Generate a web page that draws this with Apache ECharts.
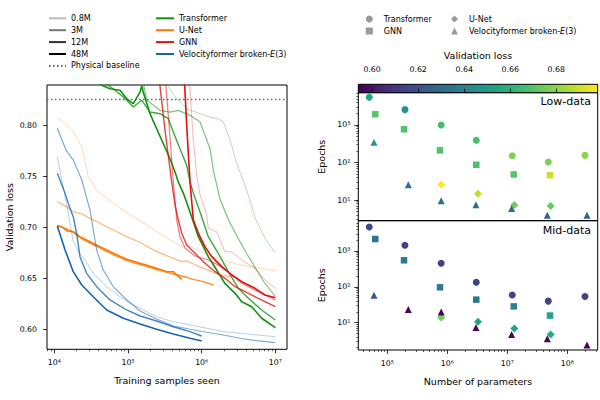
<!DOCTYPE html>
<html><head><meta charset="utf-8">
<script src="https://cdn.jsdelivr.net/npm/echarts@6/dist/echarts.min.js"></script>
<style>html,body{margin:0;padding:0;background:#fff}#c{width:600px;height:400px}</style>
</head><body><div id="c"></div>
<script>
// ---------------- DATA ----------------
const SIZES = ['0.8M', '3M', '12M', '48M'];
const MODELS = ['Transformer', 'U-Net', 'GNN', 'Velocityformer broken-E(3)'];
const BASELINE = 0.825;

// Left panel: [training samples seen, validation loss]
const transformer08M = [[3.18e5,0.8421],[3.53e5,0.8375],[4.58e5,0.8257],[6.27e5,0.8160],[9.51e5,0.8111],[1.30e6,0.8078],[1.60e6,0.8066],[1.97e6,0.8032],[2.43e6,0.7853],[2.99e6,0.7625],[4.09e6,0.7364],[5.30e6,0.7090],[7.24e6,0.6891],[1.0e7,0.6744]];
const transformer3M = [[1.60e5,0.8421],[1.80e5,0.8245],[2.72e5,0.8144],[3.72e5,0.8127],[4.82e5,0.8144],[6.95e5,0.8095],[9.51e5,0.8029],[1.11e6,0.7899],[1.30e6,0.7768],[1.44e6,0.7559],[1.77e6,0.7276],[2.32e6,0.7070],[3.16e6,0.6884],[4.19e6,0.6727],[5.47e6,0.6590],[7.02e6,0.6463],[1.0e7,0.6321]];
const transformer12M = [[5.04e4,0.8421],[5.41e4,0.8389],[6.67e4,0.8340],[8.65e4,0.8274],[1.18e5,0.8176],[1.54e5,0.8242],[1.99e5,0.8127],[2.72e5,0.8111],[3.53e5,0.8062],[4.12e5,0.7931],[5.08e5,0.7768],[6.27e5,0.7605],[6.95e5,0.7442],[7.87e5,0.7315],[9.51e5,0.7148],[1.23e6,0.6907],[1.68e6,0.6744],[2.30e6,0.6564],[3.15e6,0.6401],[4.30e6,0.6303],[6.53e6,0.6189],[1.0e7,0.6091]];
const transformer48M = [[3.92e4,0.8421],[4.40e4,0.8389],[5.70e4,0.8355],[7.80e4,0.8340],[9.61e4,0.8257],[1.18e5,0.8209],[1.46e5,0.8323],[1.54e5,0.8385],[1.61e5,0.8323],[1.99e5,0.8111],[2.45e5,0.7964],[3.02e5,0.7817],[3.72e5,0.7670],[4.35e5,0.7540],[4.82e5,0.7442],[5.64e5,0.7334],[6.95e5,0.7148],[9.02e5,0.6907],[1.23e6,0.6711],[1.60e6,0.6580],[2.07e6,0.6450],[2.84e6,0.6352],[3.50e6,0.6270],[4.78e6,0.6221],[6.53e6,0.6108],[1.0e7,0.6016]];

const unet08M = [[1.10e4,0.8075],[1.40e4,0.8017],[1.81e4,0.7934],[2.36e4,0.7788],[2.90e4,0.7494],[3.76e4,0.7364],[5.14e4,0.7282],[7.80e4,0.7185],[1.18e5,0.7102],[1.80e5,0.7021],[2.72e5,0.6933],[4.12e5,0.6858],[5.36e5,0.6809],[6.59e5,0.6825],[9.51e5,0.6760],[1.60e6,0.6695],[2.69e6,0.6646],[4.53e6,0.6613],[1.0e7,0.6571]];
const unet3M = [[1.10e4,0.7249],[1.47e4,0.7200],[1.81e4,0.7151],[2.36e4,0.7129],[3.38e4,0.7070],[5.14e4,0.7004],[8.65e4,0.6923],[1.46e5,0.6850],[2.45e5,0.6760],[4.12e5,0.6695],[5.36e5,0.6662],[6.27e5,0.6669],[1.05e6,0.6597],[1.77e6,0.6532],[3.15e6,0.6502]];
const unet12M = [[1.10e4,0.7016],[1.27e4,0.7001],[1.48e4,0.6982],[1.81e4,0.6948],[2.23e4,0.6897],[3.05e4,0.6843],[4.17e4,0.6794],[6.32e4,0.6732],[9.61e4,0.6673],[1.46e5,0.6634],[2.45e5,0.6585],[4.12e5,0.6541],[5.36e5,0.6522],[6.27e5,0.6509],[7.71e5,0.6489],[1.05e6,0.6466],[1.45e6,0.6434]];
const unet48M = [[1.10e4,0.7011],[1.26e4,0.7004],[1.47e4,0.6965],[1.81e4,0.6955],[2.23e4,0.6907],[3.05e4,0.6858],[4.17e4,0.6809],[6.32e4,0.6744],[9.61e4,0.6685],[1.46e5,0.6646],[2.45e5,0.6597],[3.36e5,0.6564],[4.12e5,0.6564],[4.58e5,0.6532],[5.36e5,0.6489]];

const gnn08M = [[6.84e5,0.8421],[7.71e5,0.7853],[8.57e5,0.7511],[9.51e5,0.7315],[1.17e6,0.7119],[1.23e6,0.6989],[1.60e6,0.6955],[2.07e6,0.6760],[2.56e6,0.6760],[3.50e6,0.6678],[5.30e6,0.6597],[7.24e6,0.6483],[1.0e7,0.6404]];
const gnn3M = [[3.23e5,0.8421],[3.66e5,0.7951],[4.12e5,0.7442],[4.42e5,0.7217],[4.58e5,0.7070],[5.08e5,0.6907],[5.94e5,0.6796],[8.13e5,0.6718],[1.23e6,0.6678],[1.67e6,0.6629],[2.28e6,0.6564],[3.50e6,0.6450],[5.87e6,0.6368],[1.0e7,0.6287]];
const gnn12M = [[2.68e5,0.8421],[3.18e5,0.7951],[3.92e5,0.7442],[4.35e5,0.7217],[4.82e5,0.7070],[5.36e5,0.6940],[6.27e5,0.6825],[8.13e5,0.6744],[1.11e6,0.6646],[1.52e6,0.6564],[2.07e6,0.6499],[2.84e6,0.6417],[3.88e6,0.6368],[5.87e6,0.6303],[1.0e7,0.6221]];
const gnn48M = [[5.85e5,0.8421],[6.32e5,0.7951],[6.95e5,0.7442],[7.40e5,0.7217],[7.71e5,0.7070],[9.02e5,0.6940],[1.11e6,0.6809],[1.37e6,0.6711],[1.87e6,0.6613],[2.56e6,0.6532],[3.50e6,0.6466],[5.30e6,0.6401],[7.24e6,0.6336],[1.0e7,0.6309]];

const vf08M = [[1.10e4,0.7690],[1.32e4,0.7396],[1.55e4,0.7136],[1.81e4,0.6858],[2.12e4,0.6760],[2.61e4,0.6678],[3.38e4,0.6548],[5.14e4,0.6417],[8.65e4,0.6294],[1.46e5,0.6206],[2.45e5,0.6123],[4.12e5,0.6074],[6.95e5,0.6042],[1.17e6,0.6010],[1.97e6,0.5977],[3.32e6,0.5961],[5.58e6,0.5944],[1.0e7,0.5928]];
const vf3M = [[1.10e4,0.7968],[1.44e4,0.7755],[1.81e4,0.7657],[2.36e4,0.7462],[3.05e4,0.7168],[3.76e4,0.6776],[4.62e4,0.6580],[6.32e4,0.6417],[9.61e4,0.6287],[1.46e5,0.6179],[2.45e5,0.6101],[4.12e5,0.6032],[6.95e5,0.6000],[1.17e6,0.5971],[1.97e6,0.5944],[3.32e6,0.5912],[5.58e6,0.5888],[1.0e7,0.5869]];
const vf12M = [[1.10e4,0.7527],[1.40e4,0.7331],[1.63e4,0.7185],[1.81e4,0.7102],[2.01e4,0.6940],[2.23e4,0.6711],[2.75e4,0.6548],[3.76e4,0.6417],[5.70e4,0.6287],[9.61e4,0.6189],[1.46e5,0.6130],[2.45e5,0.6081],[4.12e5,0.6025],[6.95e5,0.5977],[1.0e6,0.5934]];
const vf48M = [[1.10e4,0.7011],[1.40e4,0.6776],[1.81e4,0.6564],[2.36e4,0.6434],[3.38e4,0.6319],[5.14e4,0.6189],[8.65e4,0.6108],[1.46e5,0.6052],[2.45e5,0.6000],[4.12e5,0.5954],[6.95e5,0.5912],[1.0e6,0.5885]];

// Right panels: number of parameters per model
const PARAMS_TRANSFORMER = [5.0e4, 1.97e5, 7.9e5, 3.04e6, 1.21e7, 4.82e7, 1.97e8];
const PARAMS_GNN = [6.3e4, 1.9e5, 7.55e5, 3.04e6, 1.28e7, 5.15e7];
const PARAMS_UNET = [7.9e5, 3.25e6, 1.31e7, 5.28e7];
const PARAMS_VF = [6.0e4, 2.24e5, 7.9e5, 3.0e6, 1.18e7, 4.64e7, 2.13e8];

// Low-data: epochs and validation loss (colour)
const LOW_EPOCHS_TRANSFORMER = [5480, 2570, 1000, 390, 152, 103, 155];
const LOW_LOSS_TRANSFORMER = [0.654, 0.648, 0.667, 0.667, 0.678, 0.677, 0.680];
const LOW_EPOCHS_GNN = [1930, 768, 211, 87, 48, 46];
const LOW_LOSS_GNN = [0.670, 0.669, 0.669, 0.668, 0.670, 0.690];
const LOW_EPOCHS_UNET = [26, 14.7, 7.4, 6.9];
const LOW_LOSS_UNET = [0.698, 0.688, 0.675, 0.673];
const LOW_EPOCHS_VF = [347, 25.7, 9.5, 7.5, 5.9, 3.9, 3.9];
const LOW_LOSS_VF = [0.649, 0.632, 0.630, 0.631, 0.629, 0.628, 0.628];

// Mid-data
const MID_EPOCHS_TRANSFORMER = [4670, 1440, 453, 134, 59, 40, 54];
const MID_LOSS_TRANSFORMER = [0.617, 0.615, 0.614, 0.614, 0.615, 0.614, 0.615];
const MID_EPOCHS_GNN = [2160, 550, 97, 44, 28.5, 15.8];
const MID_LOSS_GNN = [0.636, 0.636, 0.637, 0.636, 0.641, 0.654];
const MID_EPOCHS_UNET = [14, 10.6, 6.9, 4.7];
const MID_LOSS_UNET = [0.675, 0.656, 0.656, 0.657];
const MID_EPOCHS_VF = [58, 23.4, 19.8, 7.35, 4.7, 3.55, 2.4];
const MID_LOSS_VF = [0.622, 0.596, 0.595, 0.596, 0.596, 0.595, 0.595];

// Tick labels
const LEFT_X_TICKS = [1e4, 1e5, 1e6, 1e7];
const LEFT_Y_TICKS = [0.60, 0.65, 0.70, 0.75, 0.80];
const RIGHT_X_TICKS = [1e5, 1e6, 1e7, 1e8];
const RIGHT_Y_TICKS = [1e1, 1e2, 1e3];
const CBAR_TICKS = [0.60, 0.62, 0.64, 0.66, 0.68];

// ---------------- STYLE / LAYOUT ----------------
const FONT = 'DejaVu Sans';
const MODEL_COLORS = ['#0e930e', '#ff7700', '#e01010', '#1565b0'];
const SIZE_ALPHA = [0.3, 0.55, 0.8, 1.0];
const SIZE_WIDTH = [1.0, 1.2, 1.4, 1.6];
const SIZE_GREY = ['#bbbbbb', '#777777', '#333333', '#000000'];
const SIZE_LEGEND_WIDTH = [1.3, 1.8, 2.2, 2.6];
const VIRIDIS = ['#440154','#482475','#414487','#355f8d','#2a788e','#21918c','#22a884','#44bf70','#7ad151','#bddf26','#fde725'];
const LX = [7960, 1.44e7], LY = [0.5804, 0.8392];
const RX = [32860, 3.21e8], RY1 = [2.81, 7260], RY2 = [1.73, 7000], CB = [0.594, 0.698];

function minorLogs(lo, hi) {
  const out = [];
  for (let e = Math.floor(Math.log10(lo)); e <= Math.ceil(Math.log10(hi)); e++) {
    for (let k = 2; k <= 9; k++) { const v = k * Math.pow(10, e); if (v > lo && v < hi) out.push(v); }
  }
  return out;
}
const SUP = {'0':'⁰','1':'¹','2':'²','3':'³','4':'⁴','5':'⁵','6':'⁶','7':'⁷','8':'⁸','9':'⁹','-':'⁻'};
const powFmt = v => '10' + String(Math.round(Math.log10(v))).split('').map(c => SUP[c]).join('');
const labelStyle = {color: '#000', fontSize: 7.8, fontFamily: FONT};
const nameStyle = {color: '#000', fontSize: 9.5, fontFamily: FONT};

function mainAxis(o) {
  return Object.assign({
    splitLine: {show: false}, axisLine: {show: false},
    axisTick: {show: true, length: 4, lineStyle: {color: '#000', width: 0.8}, customValues: o.ticks},
    axisLabel: Object.assign({show: !!o.labels, customValues: o.ticks, margin: o.margin || 8}, labelStyle, o.fmt ? {formatter: o.fmt} : {}),
    nameTextStyle: nameStyle, nameLocation: 'middle'
  }, o.extra);
}
function minorAxis(o) {
  return Object.assign({
    splitLine: {show: false}, axisLine: {show: false}, axisLabel: {show: false},
    axisTick: {show: true, length: 2, lineStyle: {color: '#000', width: 0.6}, customValues: o.ticks}
  }, o.extra);
}

const xAxis = [
  mainAxis({ticks: LEFT_X_TICKS, labels: true, fmt: powFmt, margin: 9, extra: {type: 'log', gridIndex: 0, min: LX[0], max: LX[1], position: 'bottom', name: 'Training samples seen', nameGap: 26}}),
  minorAxis({ticks: minorLogs(LX[0], LX[1]), extra: {type: 'log', gridIndex: 0, min: LX[0], max: LX[1], position: 'bottom'}}),
  {type: 'log', gridIndex: 1, min: RX[0], max: RX[1], position: 'bottom', axisLine: {show: false}, axisTick: {show: false}, axisLabel: {show: false}, splitLine: {show: false}},
  mainAxis({ticks: RIGHT_X_TICKS, labels: true, fmt: powFmt, margin: 9, extra: {type: 'log', gridIndex: 2, min: RX[0], max: RX[1], position: 'bottom', name: 'Number of parameters', nameGap: 26}}),
  minorAxis({ticks: minorLogs(RX[0], RX[1]), extra: {type: 'log', gridIndex: 2, min: RX[0], max: RX[1], position: 'bottom'}}),
  mainAxis({ticks: CBAR_TICKS, labels: true, fmt: v => v.toFixed(2), margin: 11, extra: {type: 'value', gridIndex: 3, min: CB[0], max: CB[1], position: 'top', name: 'Validation loss', nameGap: 24}})
];
const yAxis = [
  mainAxis({ticks: LEFT_Y_TICKS, labels: true, fmt: v => v.toFixed(2), margin: 10, extra: {type: 'value', gridIndex: 0, min: LY[0], max: LY[1], position: 'left', name: 'Validation loss', nameGap: 33}}),
  mainAxis({ticks: RIGHT_Y_TICKS, labels: true, fmt: powFmt, margin: 8, extra: {type: 'log', gridIndex: 1, min: RY1[0], max: RY1[1], position: 'left', name: 'Epochs', nameGap: 32}}),
  minorAxis({ticks: minorLogs(RY1[0], RY1[1]), extra: {type: 'log', gridIndex: 1, min: RY1[0], max: RY1[1], position: 'left'}}),
  mainAxis({ticks: RIGHT_Y_TICKS, labels: true, fmt: powFmt, margin: 8, extra: {type: 'log', gridIndex: 2, min: RY2[0], max: RY2[1], position: 'left', name: 'Epochs', nameGap: 32}}),
  minorAxis({ticks: minorLogs(RY2[0], RY2[1]), extra: {type: 'log', gridIndex: 2, min: RY2[0], max: RY2[1], position: 'left'}}),
  {type: 'value', gridIndex: 3, show: false, min: 0, max: 1}
];

const gridBase = {show: true, borderColor: '#000', borderWidth: 1, backgroundColor: 'transparent', containLabel: false};
const grid = [
  Object.assign({left: 47, top: 85, width: 240, height: 264.3}, gridBase),
  Object.assign({left: 358.3, top: 92.7, width: 239.4, height: 128}, gridBase),
  Object.assign({left: 358.3, top: 220.7, width: 239.4, height: 129.3}, gridBase),
  Object.assign({}, gridBase, {left: 358.3, top: 84.3, width: 239.4, height: 8.4,
    backgroundColor: {type: 'linear', x: 0, y: 0, x2: 1, y2: 0, colorStops: VIRIDIS.map((c, i) => ({offset: i / (VIRIDIS.length - 1), color: c}))}})
];

// ---------------- SERIES ----------------
const series = [];
const LINES = [
  [transformer08M, transformer3M, transformer12M, transformer48M],
  [unet08M, unet3M, unet12M, unet48M],
  [gnn08M, gnn3M, gnn12M, gnn48M],
  [vf08M, vf3M, vf12M, vf48M]
];
LINES.forEach((arr, m) => arr.forEach((d, s) => {
  series.push({type: 'line', name: MODELS[m] + ' · ' + SIZES[s], xAxisIndex: 0, yAxisIndex: 0, data: d,
    symbol: 'none', silent: true, clip: true, z: 3,
    lineStyle: {color: MODEL_COLORS[m], width: SIZE_WIDTH[s], opacity: SIZE_ALPHA[s]}});
}));
// baseline across the full axis extent
series.push({type: 'line', name: 'Physical baseline', xAxisIndex: 0, yAxisIndex: 0,
  data: [[LX[0], BASELINE], [LX[1], BASELINE]], symbol: 'none', silent: true, z: 2,
  lineStyle: {color: '#666', width: 1.5, type: [1.5, 2.5]}, itemStyle: {color: '#666'}});
// legend dummies (sizes)
SIZES.forEach((s, i) => series.push({type: 'line', name: s, xAxisIndex: 0, yAxisIndex: 0, data: [], symbol: 'none',
  lineStyle: {color: SIZE_GREY[i], width: SIZE_LEGEND_WIDTH[i]}, itemStyle: {color: SIZE_GREY[i]}}));
// legend dummies (models)
MODELS.forEach((mname, i) => series.push({type: 'line', name: mname, xAxisIndex: 0, yAxisIndex: 0, data: [], symbol: 'none',
  lineStyle: {color: MODEL_COLORS[i], width: 1.8}, itemStyle: {color: MODEL_COLORS[i]}}));

// scatter
const pts = (p, e, l) => p.map((v, i) => [v, e[i], l[i]]);
const SYMS = [['circle', 7], ['rect', 6.5], ['diamond', 8], ['triangle', 7]];
const scatterIdx = [];
function addScatter(yIdx, xIdx, sets) {
  sets.forEach((d, k) => {
    scatterIdx.push(series.length);
    series.push({type: 'scatter', xAxisIndex: xIdx, yAxisIndex: yIdx, data: d, symbol: SYMS[k][0], symbolSize: SYMS[k][1],
      silent: true, z: 4 + k, itemStyle: {opacity: 1}});
  });
}
addScatter(1, 2, [pts(PARAMS_TRANSFORMER, LOW_EPOCHS_TRANSFORMER, LOW_LOSS_TRANSFORMER), pts(PARAMS_GNN, LOW_EPOCHS_GNN, LOW_LOSS_GNN),
  pts(PARAMS_UNET, LOW_EPOCHS_UNET, LOW_LOSS_UNET), pts(PARAMS_VF, LOW_EPOCHS_VF, LOW_LOSS_VF)]);
addScatter(3, 3, [pts(PARAMS_TRANSFORMER, MID_EPOCHS_TRANSFORMER, MID_LOSS_TRANSFORMER), pts(PARAMS_GNN, MID_EPOCHS_GNN, MID_LOSS_GNN),
  pts(PARAMS_UNET, MID_EPOCHS_UNET, MID_LOSS_UNET), pts(PARAMS_VF, MID_EPOCHS_VF, MID_LOSS_VF)]);
// marker legend dummies
const MARKER_NAMES = ['m' + MODELS[0], 'm' + MODELS[2], 'm' + MODELS[1], 'm' + MODELS[3]];
const MARKER_SYMS = ['circle', 'rect', 'diamond', 'triangle'];
MARKER_NAMES.forEach((n, i) => series.push({type: 'scatter', name: n, xAxisIndex: 2, yAxisIndex: 1, data: [],
  symbol: MARKER_SYMS[i], itemStyle: {color: '#808080'}}));

const rich = {it: {fontStyle: 'italic', fontSize: 8, fontFamily: FONT, color: '#000'}, sp: {width: 6}};
const legText = {fontSize: 8, fontFamily: FONT, color: '#000', rich: rich};
const italic = n => n.replace('E(3)', '{it|E}(3)');
const legend = [
  {orient: 'vertical', left: 48, top: 14.3, padding: 0, itemWidth: 17, itemHeight: 8, itemGap: 3.9, selectedMode: false,
    data: SIZES.concat(['Physical baseline']), textStyle: legText, itemStyle: {opacity: 0}},
  {orient: 'vertical', left: 155, top: 14.3, padding: 0, itemWidth: 18, itemHeight: 8, itemGap: 3.9, selectedMode: false,
    data: MODELS, textStyle: legText, formatter: italic, itemStyle: {opacity: 0}},
  {orient: 'vertical', left: 365.8, top: 15, padding: 0, itemWidth: 7, itemHeight: 7, itemGap: 4, selectedMode: false,
    data: [MARKER_NAMES[0], MARKER_NAMES[1]], textStyle: legText, formatter: n => '{sp|}' + italic(n.slice(1))},
  {orient: 'vertical', left: 451, top: 15, padding: 0, itemWidth: 7, itemHeight: 7, itemGap: 4, selectedMode: false,
    data: [MARKER_NAMES[2], MARKER_NAMES[3]], textStyle: legText, formatter: n => '{sp|}' + italic(n.slice(1))}
];

const chart = echarts.init(document.getElementById('c'), null, {renderer: 'svg', width: 600, height: 400});
chart.setOption({
  animation: false,
  backgroundColor: '#fff',
  textStyle: {fontFamily: FONT},
  grid, xAxis, yAxis, series, legend,
  visualMap: {type: 'continuous', show: false, min: CB[0], max: CB[1], dimension: 2, seriesIndex: scatterIdx,
    inRange: {color: VIRIDIS}},
  graphic: [
    {type: 'text', right: 9, top: 95.5, style: {text: 'Low-data', fontSize: 11, fontFamily: FONT, fill: '#000'}},
    {type: 'text', right: 9, top: 224.5, style: {text: 'Mid-data', fontSize: 11, fontFamily: FONT, fill: '#000'}}
  ]
});
</script></body></html>
